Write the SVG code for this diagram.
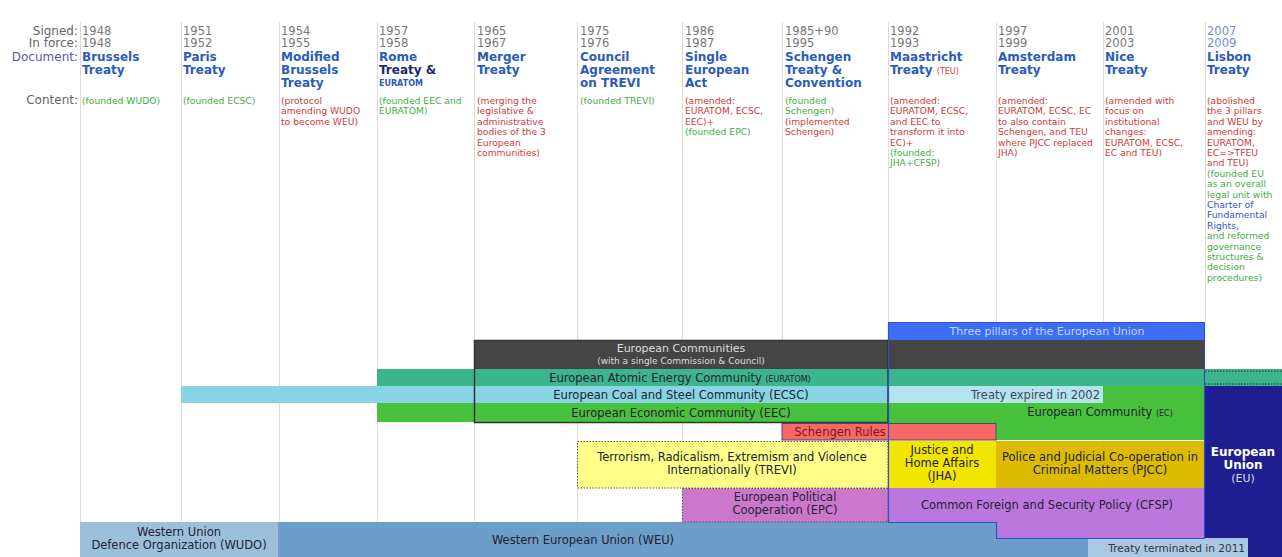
<svg xmlns="http://www.w3.org/2000/svg" width="1282" height="557" viewBox="0 0 1282 557">
<style>
text{font-family:"DejaVu Sans","Liberation Sans",sans-serif}
.lbl{font-size:12px;fill:#666;text-anchor:end}
.doclbl{fill:#5a5aa8}
.yr{font-size:11.5px;fill:#777}
.yb{fill:#6f8fd0}
.nm{font-size:12px;font-weight:bold;fill:#2a5cb8}
.sm{font-size:8px}
.ct{font-size:9.2px}
.r{fill:#cc3b3b}
.g{fill:#3fae3f}
.b{fill:#3355cc}
#grid line{stroke:#dcdcdc;stroke-width:1}
.bt{font-size:11.5px;fill:#223;text-anchor:middle}
.dot{stroke:#555;stroke-width:1;stroke-dasharray:1.5 1.5}
</style>

<g id="grid">
<line x1="80.5" y1="22" x2="80.5" y2="522"/>
<line x1="181.5" y1="22" x2="181.5" y2="522"/>
<line x1="279.5" y1="22" x2="279.5" y2="522"/>
<line x1="377.5" y1="22" x2="377.5" y2="522"/>
<line x1="474.5" y1="22" x2="474.5" y2="522"/>
<line x1="577.5" y1="22" x2="577.5" y2="522"/>
<line x1="682.5" y1="22" x2="682.5" y2="522"/>
<line x1="782.5" y1="22" x2="782.5" y2="522"/>
<line x1="888.5" y1="22" x2="888.5" y2="522"/>
<line x1="996.5" y1="22" x2="996.5" y2="522"/>
<line x1="1103.5" y1="22" x2="1103.5" y2="522"/>
<line x1="1205.5" y1="22" x2="1205.5" y2="322"/>
</g>

<g id="row-labels">
<text class="lbl" x="78" y="35">Signed:</text>
<text class="lbl" x="78" y="47">In force:</text>
<text class="lbl doclbl" x="78" y="61">Document:</text>
<text class="lbl" x="78" y="104">Content:</text>
</g>

<g id="col-brussels">
<text class="yr" x="82" y="35">1948<tspan x="82" y="47">1948</tspan></text>
<text class="nm" x="82" y="61">Brussels<tspan x="82" y="74">Treaty</tspan></text>
<text class="ct g" x="82" y="104">(founded WUDO)</text>
</g>

<g id="col-paris">
<text class="yr" x="183" y="35">1951<tspan x="183" y="47">1952</tspan></text>
<text class="nm" x="183" y="61">Paris<tspan x="183" y="74">Treaty</tspan></text>
<text class="ct g" x="183" y="104">(founded ECSC)</text>
</g>

<g id="col-modbrussels">
<text class="yr" x="281" y="35">1954<tspan x="281" y="47">1955</tspan></text>
<text class="nm" x="281" y="61">Modified<tspan x="281" y="74">Brussels</tspan><tspan x="281" y="87">Treaty</tspan></text>
<text class="ct r" x="281" y="104">(protocol<tspan x="281" dy="10.4">amending WUDO</tspan><tspan x="281" dy="10.4">to become WEU)</tspan></text>
</g>

<g id="col-rome">
<text class="yr" x="379" y="35">1957<tspan x="379" y="47">1958</tspan></text>
<text class="nm" x="379" y="61">Rome<tspan x="379" y="74" fill="#1c2a6a">Treaty &amp;</tspan><tspan x="379" y="86" class="sm">EURATOM</tspan></text>
<text class="ct g" x="379" y="104">(founded EEC and<tspan x="379" dy="10.4">EURATOM)</tspan></text>
</g>

<g id="col-merger">
<text class="yr" x="477" y="35">1965<tspan x="477" y="47">1967</tspan></text>
<text class="nm" x="477" y="61">Merger<tspan x="477" y="74">Treaty</tspan></text>
<text class="ct r" x="477" y="104">(merging the<tspan x="477" dy="10.4">legislative &amp;</tspan><tspan x="477" dy="10.4">administrative</tspan><tspan x="477" dy="10.4">bodies of the 3</tspan><tspan x="477" dy="10.4">European</tspan><tspan x="477" dy="10.4">communities)</tspan></text>
</g>

<g id="col-trevi">
<text class="yr" x="580" y="35">1975<tspan x="580" y="47">1976</tspan></text>
<text class="nm" x="580" y="61">Council<tspan x="580" y="74">Agreement</tspan><tspan x="580" y="87">on TREVI</tspan></text>
<text class="ct g" x="580" y="104">(founded TREVI)</text>
</g>

<g id="col-sea">
<text class="yr" x="685" y="35">1986<tspan x="685" y="47">1987</tspan></text>
<text class="nm" x="685" y="61">Single<tspan x="685" y="74">European</tspan><tspan x="685" y="87">Act</tspan></text>
<text class="ct r" x="685" y="104">(amended:<tspan x="685" dy="10.4">EURATOM, ECSC,</tspan><tspan x="685" dy="10.4">EEC)+</tspan><tspan x="685" dy="10.4" class="g">(founded EPC)</tspan></text>
</g>

<g id="col-schengen">
<text class="yr" x="785" y="35">1985+90<tspan x="785" y="47">1995</tspan></text>
<text class="nm" x="785" y="61">Schengen<tspan x="785" y="74">Treaty &amp;</tspan><tspan x="785" y="87">Convention</tspan></text>
<text class="ct g" x="785" y="104">(founded<tspan x="785" dy="10.4">Schengen)</tspan><tspan x="785" dy="10.4" class="r">(implemented</tspan><tspan x="785" dy="10.4" class="r">Schengen)</tspan></text>
</g>

<g id="col-maastricht">
<text class="yr" x="890" y="35">1992<tspan x="890" y="47">1993</tspan></text>
<text class="nm" x="890" y="61">Maastricht<tspan x="890" y="74">Treaty </tspan><tspan class="sm r" font-weight="normal">(TEU)</tspan></text>
<text class="ct r" x="890" y="104">(amended:<tspan x="890" dy="10.4">EURATOM, ECSC,</tspan><tspan x="890" dy="10.4">and EEC to</tspan><tspan x="890" dy="10.4">transform it into</tspan><tspan x="890" dy="10.4">EC)+</tspan><tspan x="890" dy="10.4" class="g">(founded:</tspan><tspan x="890" dy="10.4" class="g">JHA+CFSP)</tspan></text>
</g>

<g id="col-amsterdam">
<text class="yr" x="998" y="35">1997<tspan x="998" y="47">1999</tspan></text>
<text class="nm" x="998" y="61">Amsterdam<tspan x="998" y="74">Treaty</tspan></text>
<text class="ct r" x="998" y="104">(amended:<tspan x="998" dy="10.4">EURATOM, ECSC, EC</tspan><tspan x="998" dy="10.4">to also contain</tspan><tspan x="998" dy="10.4">Schengen, and TEU</tspan><tspan x="998" dy="10.4">where PJCC replaced</tspan><tspan x="998" dy="10.4">JHA)</tspan></text>
</g>

<g id="col-nice">
<text class="yr" x="1105" y="35">2001<tspan x="1105" y="47">2003</tspan></text>
<text class="nm" x="1105" y="61">Nice<tspan x="1105" y="74">Treaty</tspan></text>
<text class="ct r" x="1105" y="104">(amended with<tspan x="1105" dy="10.4">focus on</tspan><tspan x="1105" dy="10.4">institutional</tspan><tspan x="1105" dy="10.4">changes:</tspan><tspan x="1105" dy="10.4">EURATOM, ECSC,</tspan><tspan x="1105" dy="10.4">EC and TEU)</tspan></text>
</g>

<g id="col-lisbon">
<text class="yr yb" x="1207" y="35">2007<tspan x="1207" y="47">2009</tspan></text>
<text class="nm" x="1207" y="61">Lisbon<tspan x="1207" y="74">Treaty</tspan></text>
<text class="ct r" x="1207" y="104">(abolished<tspan x="1207" dy="10.4">the 3 pillars</tspan><tspan x="1207" dy="10.4">and WEU by</tspan><tspan x="1207" dy="10.4">amending:</tspan><tspan x="1207" dy="10.4">EURATOM,</tspan><tspan x="1207" dy="10.4">EC=&gt;TFEU</tspan><tspan x="1207" dy="10.4">and TEU)</tspan><tspan x="1207" dy="10.4" class="g">(founded EU</tspan><tspan x="1207" dy="10.4" class="g">as an overall</tspan><tspan x="1207" dy="10.4" class="g">legal unit with</tspan><tspan x="1207" dy="10.4" class="b">Charter of</tspan><tspan x="1207" dy="10.4" class="b">Fundamental</tspan><tspan x="1207" dy="10.4" class="b">Rights,</tspan><tspan x="1207" dy="10.4" class="g">and reformed</tspan><tspan x="1207" dy="10.4" class="g">governance</tspan><tspan x="1207" dy="10.4" class="g">structures &amp;</tspan><tspan x="1207" dy="10.4" class="g">decision</tspan><tspan x="1207" dy="10.4" class="g">procedures)</tspan></text>
</g>

<g id="three-pillars">
<rect x="888" y="322" width="317" height="18" fill="#3d6cf5"/>
<text class="bt" x="1047" y="335" style="fill:#c9d2ff;font-size:11px">Three pillars of the European Union</text>
</g>

<g id="european-communities">
<rect x="474" y="340" width="731" height="29" fill="#454545"/>
<text class="bt" x="681" y="352" style="fill:#dddddd;font-size:11px">European Communities</text>
<text class="bt" x="681" y="364" style="fill:#dddddd;font-size:9px">(with a single Commission &amp; Council)</text>
</g>

<g id="euratom">
<rect x="377" y="369" width="828" height="17" fill="#3cb48c"/>
<text class="bt" x="680" y="382">European Atomic Energy Community <tspan style="font-size:8px">(EURATOM)</tspan></text>
</g>

<g id="ec">
<rect x="888" y="386" width="317" height="54" fill="#48c23c"/>
<text class="bt" x="1100" y="416">European Community <tspan style="font-size:8px">(EC)</tspan></text>
</g>

<g id="ecsc">
<rect x="181" y="386" width="707" height="17" fill="#88d4e4"/>
<rect x="888" y="386" width="215" height="17" fill="#b4e4ee"/>
<text class="bt" x="681" y="399">European Coal and Steel Community (ECSC)</text>
<text class="bt" x="1100" y="399" style="text-anchor:end;fill:#445">Treaty expired in 2002</text>
</g>

<g id="eec">
<rect x="377" y="403" width="511" height="19" fill="#48c23c"/>
<text class="bt" x="681" y="417">European Economic Community (EEC)</text>
</g>

<g id="ec-frame">
<rect x="474.5" y="340.5" width="413.5" height="82" fill="none" stroke="#333" stroke-width="1.5"/>
</g>

<g id="schengen-rules">
<rect x="782" y="423.5" width="214" height="16.5" fill="#f86868" stroke="#4a4a6a" stroke-width="1"/>
<text class="bt" x="840" y="436" style="fill:#7a1a1a">Schengen Rules</text>
</g>

<g id="trevi">
<rect x="577.5" y="441.5" width="310.5" height="46.5" fill="#ffff88" class="dot"/>
<text class="bt" x="732" y="461">Terrorism, Radicalism, Extremism and Violence</text>
<text class="bt" x="732" y="474">Internationally (TREVI)</text>
</g>

<g id="jha">
<rect x="888" y="441" width="108" height="47" fill="#f2e600"/>
<text class="bt" x="942" y="454">Justice and</text>
<text class="bt" x="942" y="467">Home Affairs</text>
<text class="bt" x="942" y="480">(JHA)</text>
</g>

<g id="pjcc">
<rect x="996" y="441" width="209" height="47" fill="#ddbb00"/>
<text class="bt" x="1100" y="461">Police and Judicial Co-operation in</text>
<text class="bt" x="1100" y="474">Criminal Matters (PJCC)</text>
</g>

<g id="wudo">
<rect x="80" y="522" width="198" height="35" fill="#9cc0dc"/>
<text class="bt" x="179" y="536">Western Union</text>
<text class="bt" x="179" y="549">Defence Organization (WUDO)</text>
</g>

<g id="weu">
<rect x="278" y="522" width="927" height="35" fill="#6d9dc9"/>
<text class="bt" x="583" y="544">Western European Union (WEU)</text>
</g>

<g id="epc">
<rect x="682.5" y="488.5" width="205.5" height="33.5" fill="#cc77cc" class="dot"/>
<text class="bt" x="785" y="501">European Political</text>
<text class="bt" x="785" y="514">Cooperation (EPC)</text>
</g>

<g id="cfsp">
<path d="M888,488 H1205 V538 H996 V522 H888 Z" fill="#bb77dd"/>
<text class="bt" x="1047" y="509">Common Foreign and Security Policy (CFSP)</text>
</g>

<g id="eu">
<rect x="1205" y="386" width="77" height="171" fill="#1e1e90"/>
<rect x="1205" y="369" width="77" height="17" fill="#3cb48c"/>
<line x1="1205" y1="371" x2="1282" y2="371" class="dot" style="stroke:#223"/>
<line x1="1205" y1="384" x2="1282" y2="384" class="dot" style="stroke:#223"/>
<text class="bt" x="1243" y="456" style="fill:#fff;font-weight:bold;font-size:12px">European</text>
<text class="bt" x="1243" y="469" style="fill:#fff;font-weight:bold;font-size:12px">Union</text>
<text class="bt" x="1243" y="482" style="fill:#dde;font-size:11px">(EU)</text>
</g>

<g id="weu-terminated">
<rect x="1088" y="538" width="160" height="19" fill="#a9c9e2"/>
<text class="bt" x="1245" y="552" style="text-anchor:end;font-size:10.5px;fill:#334">Treaty terminated in 2011</text>
</g>

<g id="eu-frame">
<path d="M888.5,322.5 V522.5 H996.5 V538.5 H1204.5 V322.5 Z" fill="none" stroke="#3050c8" stroke-width="1.2"/>
</g>
</svg>
